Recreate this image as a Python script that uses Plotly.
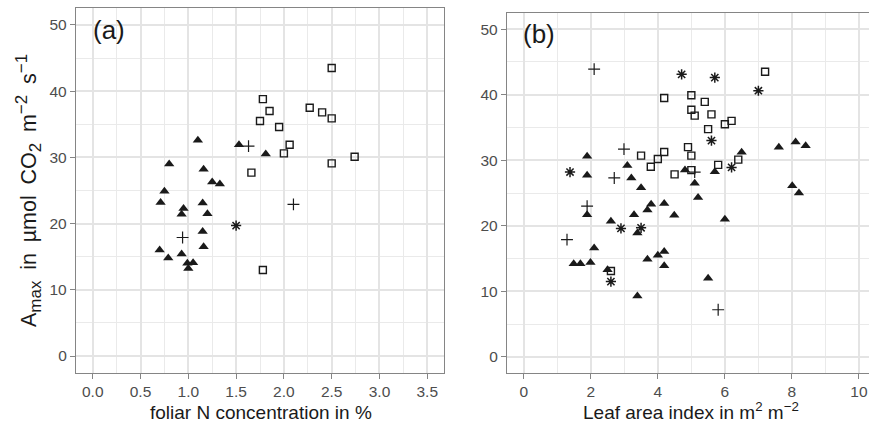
import plotly.graph_objects as go

W, H = 869, 426

# Panel (a): foliar N concentration (%) vs Amax
a_tri_x = [1.10, 1.53, 1.81, 0.80, 1.16, 1.25, 1.33, 0.75, 0.71, 0.95, 1.15, 0.93, 1.20, 1.15, 1.16, 0.70, 0.93, 0.79, 0.99, 1.05, 1.00]
a_tri_y = [32.6, 31.9, 30.5, 29.0, 28.2, 26.3, 26.0, 24.9, 23.2, 22.3, 23.1, 21.4, 21.5, 18.8, 16.5, 16.0, 15.4, 14.8, 14.0, 14.1, 13.2]
a_sq_x = [2.50, 1.78, 1.85, 1.75, 2.27, 2.40, 2.50, 1.95, 2.06, 2.00, 2.50, 2.74, 1.66, 1.78]
a_sq_y = [43.5, 38.8, 37.0, 35.5, 37.5, 36.8, 35.9, 34.6, 31.9, 30.6, 29.1, 30.1, 27.7, 13.0]
a_plus_x = [1.63, 0.94, 2.10]
a_plus_y = [31.7, 17.9, 22.9]
a_ast_x = [1.50]
a_ast_y = [19.7]

# Panel (b): leaf area index vs Amax
b_tri_x = [1.89, 3.09, 1.89, 3.21, 4.81, 3.50, 1.89, 3.80, 4.19, 3.69, 3.29, 4.49, 2.60, 3.39, 2.10, 1.49, 1.69, 1.99,
           3.69, 4.00, 4.19, 4.19, 2.50, 3.39, 6.50, 5.70, 5.10, 5.20, 7.61, 8.11, 8.41, 8.01, 8.21, 6.00, 5.50]
b_tri_y = [30.6, 29.2, 27.7, 27.3, 28.5, 25.8, 21.7, 23.3, 23.4, 22.4, 21.7, 21.6, 20.7, 18.9, 16.6, 14.2, 14.2, 14.4,
           14.9, 15.5, 16.1, 13.9, 13.3, 9.3, 31.2, 28.25, 26.5, 24.3, 32.0, 32.8, 32.2, 26.1, 25.0, 21.0, 12.0]
b_sq_x = [4.19, 3.50, 4.19, 4.00, 3.79, 4.50, 2.60, 7.20, 5.00, 5.40, 5.00, 5.10, 5.60, 6.00, 6.20, 5.50, 4.90, 5.00, 6.40, 5.80, 5.00]
b_sq_y = [39.5, 30.7, 31.25, 30.2, 29.0, 27.85, 13.1, 43.5, 39.9, 38.9, 37.7, 36.8, 37.0, 35.5, 36.0, 34.75, 32.0, 30.7, 30.1, 29.3, 28.5]
b_plus_x = [2.10, 2.99, 2.70, 1.89, 1.29, 5.10, 5.80]
b_plus_y = [43.9, 31.7, 27.3, 23.0, 17.9, 28.2, 7.2]
b_ast_x = [4.71, 1.38, 2.90, 3.50, 2.60, 5.70, 7.00, 5.60, 6.20]
b_ast_y = [43.1, 28.2, 19.6, 19.7, 11.5, 42.6, 40.6, 33.0, 28.9]

x_ticks_a = [0.0, 0.5, 1.0, 1.5, 2.0, 2.5, 3.0, 3.5]
x_ticks_a_lab = ["0.0", "0.5", "1.0", "1.5", "2.0", "2.5", "3.0", "3.5"]
x_ticks_b = [0, 2, 4, 6, 8, 10]
y_ticks = [0, 10, 20, 30, 40, 50]

INK = "#1a1a1a"
FONT = "Liberation Sans, Arial, Helvetica, sans-serif"

def add_group(fig, x, y, xa, ya, kind):
    if kind == "tri":
        marker = dict(symbol="triangle-up", size=9, color=INK, line=dict(width=0))
    elif kind == "sq":
        marker = dict(symbol="square-open", size=7, color=INK, line=dict(width=1.4, color=INK))
    elif kind == "plus":
        marker = dict(symbol="cross-thin-open", size=8.5, color=INK, line=dict(width=1.2, color=INK))
    else:
        marker = dict(symbol="asterisk-open", size=8.5, color=INK, line=dict(width=1.5, color=INK))
    fig.add_trace(go.Scatter(x=x, y=y, mode="markers", marker=marker, xaxis=xa, yaxis=ya,
                             showlegend=False, hoverinfo="skip", cliponaxis=False))

fig = go.Figure()
for xa, ya, groups in [
    ("x", "y", [(a_tri_x, a_tri_y, "tri"), (a_sq_x, a_sq_y, "sq"), (a_plus_x, a_plus_y, "plus"), (a_ast_x, a_ast_y, "ast")]),
    ("x2", "y2", [(b_tri_x, b_tri_y, "tri"), (b_sq_x, b_sq_y, "sq"), (b_plus_x, b_plus_y, "plus"), (b_ast_x, b_ast_y, "ast")]),
]:
    for gx, gy, k in groups:
        add_group(fig, gx, gy, xa, ya, k)

GRID = "#E4E4E4"
MINOR = "#EAEAEA"
BORDER = "#858585"
TICKFONT = dict(family=FONT, size=15.5, color="#4D4D4D")

common = dict(showgrid=True, gridcolor=GRID, gridwidth=1.6, zeroline=False,
              showline=True, linecolor=BORDER, linewidth=1.3,
              ticks="outside", ticklen=5, tickcolor=BORDER, tickwidth=1.1,
              tickfont=TICKFONT, fixedrange=True)

def px(xp):
    return xp / W

def py(yp):
    return 1 - yp / H

fig.update_layout(
    width=W, height=H,
    margin=dict(l=0, r=0, t=0, b=0),
    paper_bgcolor="white", plot_bgcolor="white",
    font=dict(family=FONT, color="#1a1a1a"),
    xaxis=dict(domain=[px(76), px(444)], range=[-0.175, 3.675], tickvals=x_ticks_a, ticktext=x_ticks_a_lab,
               mirror=True, anchor="y",
               minor=dict(dtick=0.25, tick0=0, showgrid=True, gridcolor=MINOR, gridwidth=1.3, ticks=""),
               **common),
    yaxis=dict(domain=[py(372.7), py(8.3)], range=[-2.52, 52.52], tickvals=y_ticks,
               mirror=True, anchor="x",
               minor=dict(dtick=5, tick0=0, showgrid=True, gridcolor=MINOR, gridwidth=1.3, ticks=""),
               **common),
    xaxis2=dict(domain=[px(507), 1.0], range=[-0.5, 10.3], tickvals=x_ticks_b,
                mirror=True, anchor="y2",
                minor=dict(dtick=1, tick0=0, showgrid=True, gridcolor=MINOR, gridwidth=1.3, ticks=""),
                **common),
    yaxis2=dict(domain=[py(372.7), py(12.7)], range=[-2.4, 52.5], tickvals=y_ticks,
                mirror=False, anchor="x2",
                minor=dict(dtick=5, tick0=0, showgrid=True, gridcolor=MINOR, gridwidth=1.3, ticks=""),
                **common),
)

SP = "\u2002"
def small(t, tag):
    return '<{0}><span style="font-size:17px">{1}</span></{0}>'.format(tag, t)

ytitle = ("A" + small("max", "sub") + SP + "in" + SP + "\u00b5mol" + SP + "CO" + small("2", "sub")
          + SP + "m" + small("\u22122", "sup") + SP + "s" + small("\u22121", "sup"))

ann = [
    dict(text="(a)", x=px(91), y=py(30), xanchor="left", yanchor="middle", font=dict(size=26, family=FONT, color=INK)),
    dict(text="(b)", x=px(521), y=py(34), xanchor="left", yanchor="middle", font=dict(size=26, family=FONT, color=INK)),
    dict(text="foliar N concentration in %", x=px(261), y=py(412), xanchor="center", yanchor="middle",
         font=dict(size=19, family=FONT, color=INK)),
    dict(text="Leaf area index in m<sup>2</sup> m<sup>\u22122</sup>", x=px(691), y=py(411), xanchor="center", yanchor="middle",
         font=dict(size=19, family=FONT, color=INK)),
    dict(text=ytitle, x=px(29), y=py(191),
         xanchor="center", yanchor="middle", textangle=-90, font=dict(size=21.5, family=FONT, color=INK)),
]
for a in ann:
    a.update(xref="paper", yref="paper", showarrow=False)
fig.update_layout(annotations=ann)

fig.write_html("out.html")
